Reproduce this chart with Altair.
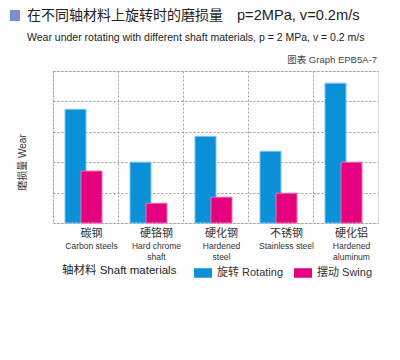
import altair as alt
import pandas as pd

materials_cn = ["碳钢", "硬铬钢", "硬化钢", "不锈钢", "硬化铝"]
materials_en = ["Carbon steels", "Hard chrome\nshaft", "Hardened\nsteel", "Stainless steel", "Hardened\naluminum"]
rotating = [3.74, 2.0, 2.85, 2.36, 4.6]
swing = [1.71, 0.65, 0.85, 0.98, 2.0]
series = ["旋转 Rotating", "摆动 Swing"]
colors = ["#0a8fd8", "#e4007f"]
strokes = ["#7cc4ec", "#ef6fae"]

title_cn = "在不同轴材料上旋转时的磨损量"
title_params = "p=2MPa, v=0.2m/s"
subtitle_en = "Wear under rotating with different shaft materials, p = 2 MPa, v = 0.2 m/s"
graph_id = "图表 Graph EPB5A-7"
y_title = "磨损量 Wear"
legend_title = "轴材料 Shaft materials"

W, H = 325, 152
FONT = "Liberation Sans, Noto Sans CJK SC, sans-serif"

rows = []
for i, m in enumerate(materials_cn):
    rows.append({"mat": m, "en": materials_en[i], "series": series[0], "v": rotating[i]})
    rows.append({"mat": m, "en": materials_en[i], "series": series[1], "v": swing[i]})
df = pd.DataFrame(rows)

xscale = alt.Scale(domain=materials_cn, paddingInner=0, paddingOuter=0)
yscale = alt.Scale(domain=[0, 5], nice=False)
cscale = alt.Scale(domain=series, range=colors)

base = alt.Chart(df)

xaxis = alt.Axis(title=None, labels=False, ticks=False, domain=False, grid=True, bandPosition=0,
                 gridDash=[2, 2], gridColor="#999")
yaxis = alt.Axis(title=y_title, labels=False, ticks=False, domain=False,
                 tickCount=5, grid=True, gridDash=[2, 2], gridColor="#999",
                 titleFontSize=10, titleFontWeight="normal", titleColor="#333",
                 titleX=-26, titleY=91, titleFont=FONT)

legend = alt.Legend(orient="none", legendX=9, legendY=193, direction="horizontal",
                    titleOrient="left", title=legend_title, titleFontSize=11.5,
                    titleFontWeight="normal", titleColor="#222", titlePadding=17,
                    labelFontSize=11, labelColor="#333", labelOffset=5,
                    symbolType="M-1,-0.53H1V0.53H-1Z", symbolSize=324,
                    symbolStrokeWidth=0, columnPadding=10, padding=0,
                    titleFont=FONT, labelFont=FONT, titleBaseline="middle")

rot = base.transform_filter(alt.datum.series == series[0]).mark_bar(
    width=21, xOffset=-10, stroke=strokes[0], strokeWidth=1
).encode(
    x=alt.X("mat:N", scale=xscale, axis=xaxis, sort=materials_cn),
    y=alt.Y("v:Q", scale=yscale, axis=yaxis),
    color=alt.Color("series:N", scale=cscale, legend=legend),
)

sw = base.transform_filter(alt.datum.series == series[1]).mark_bar(
    width=21, xOffset=6, stroke=strokes[1], strokeWidth=1
).encode(
    x=alt.X("mat:N", scale=xscale, sort=materials_cn),
    y=alt.Y("v:Q", scale=yscale),
    color=alt.Color("series:N", scale=cscale),
)

labels_src = base.transform_filter(alt.datum.series == series[0])
cn_labels = labels_src.mark_text(
    fontSize=11, baseline="middle", color="#333", font=FONT, dx=6
).encode(
    x=alt.X("mat:N", scale=xscale, sort=materials_cn),
    y=alt.value(H + 11),
    text="mat:N",
)
en_labels = labels_src.mark_text(
    fontSize=8.5, baseline="top", lineHeight=11, color="#333", lineBreak="\n", font=FONT, dx=6
).encode(
    x=alt.X("mat:N", scale=xscale, sort=materials_cn),
    y=alt.value(H + 19),
    text="en:N",
)

hdr = pd.DataFrame({"t": [title_cn], "p": [title_params], "s": [subtitle_en], "g": [graph_id]})
hbase = alt.Chart(hdr)
square = hbase.mark_rect(color="#7b8fcc").encode(
    x=alt.value(-43), x2=alt.value(-33), y=alt.value(-61), y2=alt.value(-50))
t1 = hbase.mark_text(align="left", baseline="middle", fontSize=14, color="#222", font=FONT).encode(
    x=alt.value(-26), y=alt.value(-55), text="t:N")
t1b = hbase.mark_text(align="left", baseline="middle", fontSize=14.6, color="#222", font=FONT).encode(
    x=alt.value(184), y=alt.value(-55), text="p:N")
t2 = hbase.mark_text(align="left", baseline="middle", fontSize=10.5, color="#222", font=FONT).encode(
    x=alt.value(-26), y=alt.value(-33), text="s:N")
t3 = hbase.mark_text(align="right", baseline="middle", fontSize=9.5, color="#444", font=FONT).encode(
    x=alt.value(W - 1), y=alt.value(-11), text="g:N")

chart = alt.layer(rot, sw, cn_labels, en_labels, square, t1, t1b, t2, t3).properties(
    width=W, height=H,
    autosize=alt.AutoSizeParams(type="none"),
    padding={"left": 45, "top": 63, "right": 14, "bottom": 120},
).configure_view(stroke="#808080", strokeWidth=1).configure(font=FONT, background="white")

chart.save("out.html", embed_options={"renderer": "svg", "actions": False})
